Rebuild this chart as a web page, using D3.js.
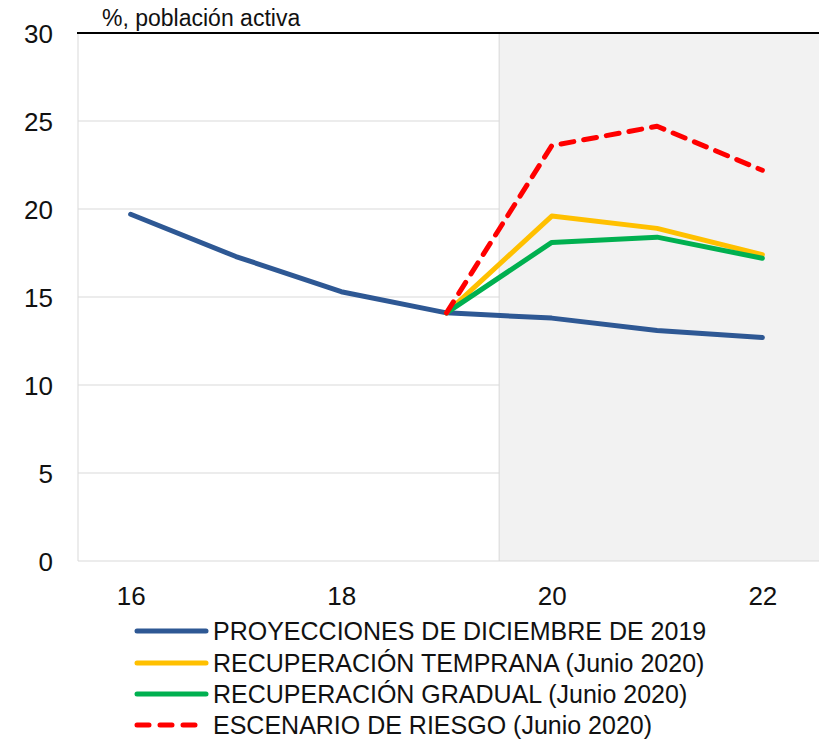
<!DOCTYPE html>
<html><head><meta charset="utf-8">
<script src="https://cdn.jsdelivr.net/npm/d3@7"></script>
<style>
body{margin:0;background:#fff;}
text{font-family:"Liberation Sans",Arial,sans-serif;fill:#111;}
</style></head>
<body>
<svg id="c" width="819" height="743"></svg>
<script>
const years = [16, 17, 18, 19, 20, 21, 22];
const proyecciones = [19.7, 17.3, 15.3, 14.1, 13.8, 13.1, 12.7];
const tempranaYears = [19, 20, 21, 22];
const temprana = [14.1, 19.6, 18.9, 17.4];
const gradual = [14.1, 18.1, 18.4, 17.2];
const riesgo = [14.1, 23.6, 24.7, 22.2];
const yTicks = [0, 5, 10, 15, 20, 25, 30];
const xTicks = [16, 18, 20, 22];
const seriesNames = ["PROYECCIONES DE DICIEMBRE DE 2019","RECUPERACIÓN TEMPRANA (Junio 2020)","RECUPERACIÓN GRADUAL (Junio 2020)","ESCENARIO DE RIESGO (Junio 2020)"];
const unitLabel = "%, población activa";

const svg = d3.select("#c");
const L = 78, R = 815, T = 33, B = 561;
const x = d3.scaleLinear().domain([15.5, 22.5]).range([L, R]);
const y = d3.scaleLinear().domain([0, 30]).range([B, T]);

// gridlines
svg.append("g").selectAll("line").data(yTicks.filter(d=>d>0 && d<30)).join("line")
  .attr("x1", L).attr("x2", R).attr("y1", d=>y(d)).attr("y2", d=>y(d))
  .attr("stroke", "#d9d9d9").attr("stroke-width", 1);
// shaded projection area
svg.append("rect").attr("x", x(19.5)).attr("y", T).attr("width", 819 - x(19.5)).attr("height", B - T)
  .attr("fill", "#f2f2f2");
svg.append("line").attr("x1", x(19.5)).attr("x2", x(19.5)).attr("y1", T).attr("y2", B)
  .attr("stroke", "#d9d9d9");
// axes lines
svg.append("line").attr("x1", L).attr("x2", L).attr("y1", T).attr("y2", B).attr("stroke", "#d9d9d9");
svg.append("line").attr("x1", L).attr("x2", 819).attr("y1", B).attr("y2", B).attr("stroke", "#d9d9d9");
svg.append("line").attr("x1", L - 1).attr("x2", 819).attr("y1", T).attr("y2", T).attr("stroke", "#000").attr("stroke-width", 2);

// y axis labels
const yAxis = d3.axisLeft(y).tickValues(yTicks).tickSize(0).tickPadding(0).tickFormat(d3.format("d"));
const gy = svg.append("g").attr("transform", `translate(${53},0)`).call(yAxis);
gy.select(".domain").remove();
gy.attr("font-size", null).attr("font-family", null);
gy.selectAll("text").style("font-size", "26px").attr("fill", "#111").attr("dy", "0.36em");

const xAxis = d3.axisBottom(x).tickValues(xTicks).tickSize(0).tickPadding(0).tickFormat(d3.format("d"));
const gx = svg.append("g").attr("transform", `translate(0,${580})`).call(xAxis);
gx.select(".domain").remove();
gx.attr("font-size", null).attr("font-family", null);
gx.selectAll("text").style("font-size", "26px").attr("fill", "#111").attr("dy", "0.95em");

svg.append("text").attr("x", 102).attr("y", 26).style("font-size", "23px").text(unitLabel);

const line = d3.line().x(d=>x(d[0])).y(d=>y(d[1]));
const series = [
  {xs: years, v: proyecciones, color: "#2e5894", dash: null},
  {xs: tempranaYears, v: temprana, color: "#ffc000", dash: null},
  {xs: tempranaYears, v: gradual, color: "#00b050", dash: null},
  {xs: tempranaYears, v: riesgo, color: "#ff0000", dash: "13,10"}
];
series.forEach(s => {
  svg.append("path").datum(s.xs.map((d,i)=>[d, s.v[i]]))
    .attr("d", line).attr("fill", "none").attr("stroke", s.color)
    .attr("stroke-width", 5).attr("stroke-linecap", "round").attr("stroke-linejoin", "round")
    .attr("stroke-dasharray", s.dash);
});

// legend
const lg = svg.append("g");
const rowY = [631, 663, 694, 725];
series.forEach((s, i) => {
  lg.append("line").attr("x1", 137).attr("x2", 206).attr("y1", rowY[i]).attr("y2", rowY[i])
    .attr("stroke", s.color).attr("stroke-width", 5).attr("stroke-linecap", "round")
    .attr("stroke-dasharray", s.dash ? "12,11" : null);
  lg.append("text").attr("x", 213).attr("y", rowY[i]).attr("dy", "0.36em")
    .style("font-size", "25px").text(seriesNames[i]);
});
</script>
</body></html>
